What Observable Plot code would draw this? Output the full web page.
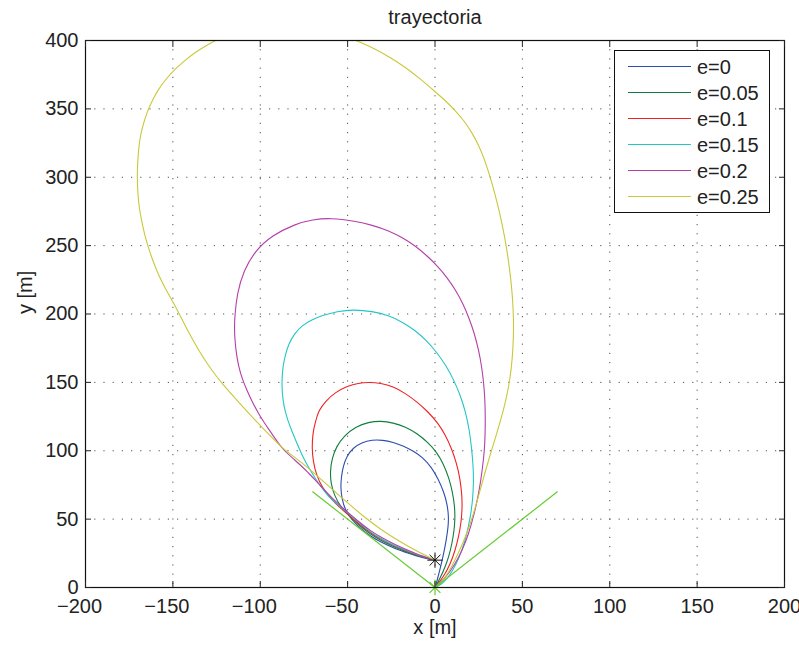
<!DOCTYPE html>
<html><head><meta charset="utf-8">
<script src="https://cdn.jsdelivr.net/npm/d3@7"></script>
<script src="https://cdn.jsdelivr.net/npm/@observablehq/plot@0.6"></script>
<style>
body{margin:0;background:#fff;font-family:"Liberation Sans",Arial,sans-serif;}
#wrap{position:relative;width:799px;height:646px;}
#legend{position:absolute;left:614px;top:50px;width:156px;height:163px;border:1px solid #111;background:#fff;box-sizing:border-box;}
.row{position:absolute;left:0;height:26px;width:150px;}
.sw{position:absolute;left:13px;top:12px;width:63px;height:0;border-top:1.5px solid;}
.lb{position:absolute;left:82px;top:0;font-size:20px;line-height:26px;color:#222;white-space:nowrap;}
</style></head><body><div id="wrap"></div>
<script>
const seriesNames = ["e=0", "e=0.05", "e=0.1", "e=0.15", "e=0.2", "e=0.25"];
const seriesColors = ["#2b4db0", "#0f7d3c", "#ee2222", "#22c6c6", "#b43fa8", "#c8c83a"];
const xTicks = [-200, -150, -100, -50, 0, 50, 100, 150, 200];
const yTicks = [0, 50, 100, 150, 200, 250, 300, 350, 400];

const e000 = [[0,20],[-8,22],[-15,25],[-23,28.5],[-30,32.5],[-37,37.5],[-43,43.5],[-48,50],[-51.5,57],[-53.3,65],[-54,73],[-53.6,81],[-52.5,89],[-50.5,96],[-47,102],[-42,106],[-36,108],[-30,107.8],[-24,106.3],[-18,103.5],[-12,99.5],[-7,95],[-2,88],[2,79],[5,70],[7,61],[7.8,52],[7.6,45],[6.5,35],[5,25],[3,14],[1.2,5],[0,0]];
const e005 = [[0,20],[-8,22.5],[-15,25.5],[-23,29.5],[-30,33.5],[-37,39],[-43,45],[-49,52],[-54,59],[-57.5,67],[-59.6,76],[-60,85],[-59,94],[-56.5,103],[-52,111],[-45.5,117.5],[-38,121],[-31,121.8],[-24,120.5],[-17,117.5],[-10,112.5],[-4,106],[1,99],[5,90],[8,80],[10,70],[11.2,60],[11.5,51],[11,42],[9.7,32],[8,23],[5.8,15],[3,7],[0,0]];
const e010 = [[0,20],[-8,22.7],[-15,26],[-23,30],[-30,34.5],[-37,40],[-43,46],[-49,52.5],[-55,59],[-60,65.5],[-64.5,73],[-67.8,82],[-69.7,92],[-70.4,101.4],[-70,112.4],[-68.5,121],[-66.6,129.4],[-62.5,136.5],[-57,142.8],[-50,147.3],[-44,149.5],[-37.9,150.1],[-31,149.5],[-24,147],[-17,142],[-10,135.5],[-4,128.5],[1.5,120.5],[6,111.5],[9.5,101.5],[12.3,91],[14.3,80],[15.4,68],[15.6,58],[14.9,47],[13.5,37],[11.5,27],[8.8,17.3],[5,8],[0,0]];
const e015 = [[0,20],[-8,23],[-15,26.5],[-23,30.5],[-30,35],[-37,40.5],[-43,47],[-49,53.5],[-55,60],[-60.8,66],[-66.6,75.8],[-72,87],[-75.5,95],[-78.5,104],[-81.5,113],[-84.5,123],[-86.6,133],[-87.5,143],[-87.6,152],[-87.1,161.1],[-85.7,170],[-83.7,178.2],[-80.5,185.5],[-76.1,191.6],[-70.5,195.8],[-64.7,198.9],[-56,202],[-46.5,203.3],[-36,202],[-26.5,199],[-18.5,194],[-11.3,188],[-4.8,180.5],[1,172],[6.2,162.5],[10.7,152],[14.5,140.5],[17.5,128.5],[19.7,115],[21,101.5],[21.9,88],[22.1,76],[21.5,63],[20.2,51.4],[18.2,39],[15.5,27.1],[12,16.5],[7.8,7.5],[3.5,2],[0,0]];
const e020 = [[0,20],[-8,23.2],[-15,27],[-23,31.5],[-30,36],[-37,41.5],[-43,47.5],[-50,55],[-57,63],[-63,71],[-68.5,78.5],[-74,86],[-80,93],[-87.6,101.4],[-93.3,112.4],[-97.5,120],[-100.9,127],[-104.5,135.5],[-107.6,144.1],[-110.3,152.5],[-112.3,161.1],[-113.7,171],[-114.5,181],[-114.8,190],[-114.6,198],[-113.3,214.8],[-109.5,231.8],[-102.8,246.4],[-93.3,257.4],[-79.9,265.9],[-70,269],[-59.9,270.3],[-45.6,267.9],[-36,265],[-26.5,261],[-18,255.5],[-11,249.5],[-4.5,242.5],[1.5,235],[7,226.5],[11.8,217.5],[16,207.5],[19.5,197],[22.5,186],[25,173.5],[26.8,161],[27.9,149],[28.6,137],[28.8,124.5],[28.7,113],[28.4,101.4],[27,85],[25,68.5],[22.5,54],[19.3,39.3],[15.5,27],[11.6,17.3],[6,7],[0,0]];
const e025 = [[0,20],[-11.3,27.1],[-20,33.5],[-30.3,41.7],[-40,51],[-49.4,61.2],[-58,71],[-66,80],[-73,88],[-80,95],[-87.6,102],[-95,112],[-102.8,122.1],[-112,135],[-121.9,149],[-129,161],[-135.2,173.3],[-140.8,186],[-145.8,198.9],[-150,209],[-154.5,219],[-158.1,228.2],[-161.2,238],[-163.8,247.7],[-166,257],[-167.7,267.1],[-169.2,277],[-170,286.7],[-170.5,301.3],[-170.1,311],[-169.6,321],[-168.6,330.5],[-166.9,339],[-164.8,347.6],[-161.7,356.5],[-158.1,364.7],[-153.6,372.3],[-148.6,379.3],[-143,385.6],[-137.2,391.4],[-131,396.3],[-124.7,400.7],[-110,409],[-95,414],[-80,415],[-66,411.5],[-55,406],[-46.5,400.7],[-34.2,393.9],[-25.5,387.5],[-17,380.5],[-8.5,372],[-0.2,362.9],[6,356],[11.6,348.8],[16.5,341.5],[21,333],[25,323.5],[28.5,312.5],[31.5,300.5],[34.3,288],[36.8,275],[39,262],[41,248],[42.7,233],[44,218],[44.8,203],[45,190],[44.7,176],[43.8,161],[42.2,147],[40,134],[37.5,122],[34.7,110],[31.8,98],[28.8,85],[25.8,71],[23,58],[19.8,45],[16.5,34],[13.3,25],[9.5,15],[5.9,7.5],[2.5,2],[0,0]];
const seriesPoints = [e000, e005, e010, e015, e020, e025];

const guideV = [[-70,70],[0,0],[70,70]];
const startPoint = [[0,20]];
const targetPoint = [[0,0]];

const X = d => d[0], Y = d => d[1];
const gridStyle = {stroke: "#333", strokeOpacity: 0.85, strokeDasharray: "1.2,8"};
const fmt = d => String(d).replace("-", "\u2212");
const negTicks = xTicks.filter(t => t < 0);
const nonNegTicks = xTicks.filter(t => t >= 0);
const tickText = {x: d => d, frameAnchor: "bottom", dy: 19, text: fmt, lineAnchor: "middle", fontSize: 20, fill: "#222"};

const chart = Plot.plot({
  width: 799, height: 646,
  marginLeft: 85, marginRight: 15, marginTop: 40, marginBottom: 59,
  style: {fontFamily: "Liberation Sans, Arial, sans-serif", fontSize: "20px", color: "#222", background: "white"},
  x: {domain: [-200, 200], label: null},
  y: {domain: [0, 400], label: null},
  marks: [
    Plot.gridX(xTicks, gridStyle),
    Plot.gridY(yTicks, gridStyle),
    ...seriesPoints.map((pts, i) => Plot.line(pts, {x: X, y: Y, stroke: seriesColors[i], strokeWidth: 1.1, curve: "basis", clip: true})),
    Plot.line(guideV, {x: X, y: Y, stroke: "#66cc33", strokeWidth: 1.2}),
    Plot.dot(startPoint, {x: X, y: Y, symbol: "plus", r: 5, stroke: "#111", fill: "none", strokeWidth: 1}),
    Plot.dot(startPoint, {x: X, y: Y, symbol: "times", r: 5, stroke: "#111", fill: "none", strokeWidth: 1}),
    Plot.dot(targetPoint, {x: X, y: Y, symbol: "plus", r: 5, stroke: "#66cc33", fill: "none", strokeWidth: 1.2}),
    Plot.dot(targetPoint, {x: X, y: Y, symbol: "times", r: 5, stroke: "#66cc33", fill: "none", strokeWidth: 1.2}),
    Plot.frame({stroke: "#111", strokeWidth: 1.2}),
    Plot.axisX(xTicks, {anchor: "bottom", tickSize: -6, tickFormat: () => "", label: null}),
    Plot.text(negTicks, {...tickText, dx: -6}),
    Plot.text(nonNegTicks, tickText),
    Plot.axisX(xTicks, {anchor: "top", tickSize: -6, tickFormat: () => "", label: null}),
    Plot.axisY(yTicks, {anchor: "left", tickSize: -6, tickPadding: 13, label: null, fontSize: 20}),
    Plot.axisY(yTicks, {anchor: "right", tickSize: -6, tickFormat: () => "", label: null}),
    Plot.text(["trayectoria"], {frameAnchor: "top", dy: -23, lineAnchor: "middle", fontSize: 20, fill: "#222"}),
    Plot.text(["x [m]"], {frameAnchor: "bottom", dy: 40, lineAnchor: "middle", fontSize: 20, fill: "#222"}),
    Plot.text(["y [m]"], {frameAnchor: "left", dx: -60, lineAnchor: "middle", rotate: -90, fontSize: 20, fill: "#222"})
  ]
});

const wrap = document.getElementById("wrap");
wrap.appendChild(chart);
const legend = document.createElement("div");
legend.id = "legend";
seriesNames.forEach((name, i) => {
  const row = document.createElement("div");
  row.className = "row";
  row.style.top = (3 + i * 26) + "px";
  const sw = document.createElement("div");
  sw.className = "sw";
  sw.style.borderTopColor = seriesColors[i];
  const lb = document.createElement("div");
  lb.className = "lb";
  lb.textContent = name;
  row.appendChild(sw); row.appendChild(lb);
  legend.appendChild(row);
});
wrap.appendChild(legend);
</script>
</body></html>
